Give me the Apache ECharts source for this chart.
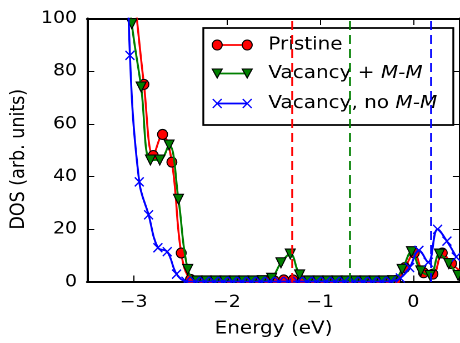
<!DOCTYPE html>
<html>
<head>
<meta charset="utf-8">
<script src="https://cdn.jsdelivr.net/npm/echarts@6/dist/echarts.min.js"></script>
<style>
  html, body { margin: 0; padding: 0; background: #fff; overflow: hidden; }
  #wrap { width: 460px; height: 343px; overflow: hidden; }
  /* figure is drawn narrower and widened horizontally, giving the wide lettering */
  #chart { width: 414px; height: 343px; transform: scaleX(1.111); transform-origin: 0 0; }
</style>
</head>
<body>
<div id="wrap"><div id="chart"></div></div>
<script>
// Density of states near the gap: pristine, vacancy with M-M bond, vacancy without M-M bond
var energyPristine = [-3.09, -2.99, -2.89, -2.79, -2.69, -2.59, -2.49, -2.39, -2.29, -2.19,
  -2.09, -1.99, -1.89, -1.79, -1.69, -1.59, -1.49, -1.39, -1.29, -1.19,
  -1.09, -0.99, -0.89, -0.79, -0.69, -0.59, -0.49, -0.39, -0.29, -0.19,
  -0.09, 0.01, 0.11, 0.21, 0.31, 0.41, 0.51];
var dosPristine = [140, 108, 75, 48, 56, 45.5, 11, 1, 0.3, 0.3,
  0.3, 0.3, 0.3, 0.3, 0.3, 0.3, 0.4, 0.8, 0.8, 0.4,
  0.3, 0.3, 0.3, 0.3, 0.3, 0.3, 0.3, 0.3, 0.3, 0.5,
  5.5, 11, 3.5, 3, 11, 7, 4];

var energyVacMM = [-3.12, -3.02, -2.92, -2.82, -2.72, -2.62, -2.52, -2.42, -2.32, -2.22,
  -2.12, -2.02, -1.92, -1.82, -1.72, -1.62, -1.52, -1.42, -1.32, -1.22,
  -1.12, -1.02, -0.92, -0.82, -0.72, -0.62, -0.52, -0.42, -0.32, -0.22,
  -0.12, -0.02, 0.08, 0.18, 0.28, 0.38, 0.48];
var dosVacMM = [135, 98, 74, 46.3, 46.3, 52, 31.4, 4.8, 0.4, 0.4,
  0.4, 0.4, 0.4, 0.4, 0.4, 0.5, 1.4, 7.3, 10.6, 2.7,
  0.4, 0.4, 0.4, 0.4, 0.4, 0.4, 0.4, 0.4, 0.4, 0.5,
  4.8, 11.5, 4.2, 2.5, 10.6, 7, 2.5];

var energyVacNoMM = [-3.14, -3.04, -2.94, -2.84, -2.74, -2.64, -2.54, -2.44, -2.34, -2.24,
  -2.14, -2.04, -1.94, -1.84, -1.74, -1.64, -1.54, -1.44, -1.34, -1.24,
  -1.14, -1.04, -0.94, -0.84, -0.74, -0.64, -0.54, -0.44, -0.34, -0.24,
  -0.14, -0.04, 0.06, 0.16, 0.26, 0.36, 0.46];
var dosVacNoMM = [220, 86, 38, 25.5, 13, 11.5, 3, 0.3, 0.2, 0.2,
  0.2, 0.2, 0.2, 0.2, 0.2, 0.2, 0.2, 0.2, 0.2, 0.2,
  0.2, 0.2, 0.2, 0.2, 0.2, 0.2, 0.2, 0.2, 0.2, 0.3,
  1.5, 5.5, 12, 7.5, 20, 15.5, 9.5];

// Fermi levels (dashed verticals)
var fermiLevels = [-1.30, -0.68, 0.19];

var seriesNames = ['Pristine', 'Vacancy + M-M', 'Vacancy, no M-M'];
var xTicks = [-3, -2, -1, 0];
var yTicks = [0, 20, 40, 60, 80, 100];

var FONT = 'DejaVu Sans';
var RED = '#ff0000', GREEN = '#008000', BLUE = '#0000ff';
var CROSS = 'path://M0,0L10,10M10,0L0,10';

function pairs(xs, ys) {
  return xs.map(function (x, i) { return [x, ys[i]]; });
}
function minusSign(v) {
  return String(v).replace('-', '\u2212');
}
function fermiLine(value, color) {
  return {
    silent: true,
    symbol: 'none',
    label: { show: false },
    lineStyle: { color: color, type: [9, 5], width: 1.7 },
    data: [{ xAxis: value }],
    z: 20
  };
}

var chart = echarts.init(document.getElementById('chart'), null, { renderer: 'canvas', devicePixelRatio: 2 });

var axisLine = { show: true, onZero: false, lineStyle: { color: '#000', width: 2 } };
var tickStyle = { show: true, inside: true, length: 6.5, lineStyle: { color: '#000', width: 1 } };

var legendRows = [
  { y: 45, color: RED, text: 'Pristine', kind: 'circle' },
  { y: 73.5, color: GREEN, text: 'Vacancy + {i|M-M}', kind: 'tri' },
  { y: 103.5, color: BLUE, text: 'Vacancy, no {i|M-M}', kind: 'cross' }
];

function legendMarker(kind, cx, cy, color) {
  if (kind === 'circle') {
    return { type: 'ellipse', shape: { cx: cx, cy: cy, rx: 4.5, ry: 5 }, style: { fill: color, stroke: '#000', lineWidth: 1 } };
  }
  if (kind === 'tri') {
    return { type: 'polygon', shape: { points: [[cx - 4.5, cy - 4.5], [cx + 4.5, cy - 4.5], [cx, cy + 4.5]] },
      style: { fill: color, stroke: '#000', lineWidth: 1 } };
  }
  return { type: 'group', children: [
    { type: 'line', shape: { x1: cx - 4, y1: cy - 4.5, x2: cx + 4, y2: cy + 4.5 }, style: { stroke: color, lineWidth: 1.3 } },
    { type: 'line', shape: { x1: cx - 4, y1: cy + 4.5, x2: cx + 4, y2: cy - 4.5 }, style: { stroke: color, lineWidth: 1.3 } }
  ] };
}

var legendChildren = [
  { type: 'rect', shape: { x: 183, y: 28, width: 225, height: 97 },
    style: { fill: '#fff', stroke: '#000', lineWidth: 1.7 } }
];
legendRows.forEach(function (r) {
  legendChildren.push({ type: 'line', shape: { x1: 195.5, y1: r.y, x2: 222.5, y2: r.y }, style: { stroke: r.color, lineWidth: 1.7 } });
  legendChildren.push(legendMarker(r.kind, 195.5, r.y, r.color));
  legendChildren.push(legendMarker(r.kind, 222.5, r.y, r.color));
  legendChildren.push({ type: 'text', x: 241.5, y: r.y,
    style: { text: r.text, fontFamily: FONT, fontSize: 18, fill: '#000', verticalAlign: 'middle', align: 'left',
      rich: { i: { fontStyle: 'italic', fontFamily: FONT, fontSize: 18 } } } });
});

var option = {
  animation: false,
  backgroundColor: '#fff',
  grid: { left: 77.5, right: -2, top: 18.5, bottom: 61 },
  xAxis: [
    {
      type: 'value', min: -3.5, max: 0.5, position: 'bottom',
      axisLine: axisLine,
      axisTick: Object.assign({}, tickStyle, { customValues: xTicks }),
      axisLabel: { customValues: xTicks, margin: 12, fontFamily: FONT, fontSize: 17, color: '#000',
        formatter: function (v) { return minusSign(v); } },
      splitLine: { show: false },
      name: 'Energy (eV)', nameLocation: 'middle', nameGap: 38,
      nameTextStyle: { fontFamily: FONT, fontSize: 18, color: '#000' }
    },
    {
      type: 'value', min: -3.5, max: 0.5, position: 'top',
      axisLine: axisLine,
      axisTick: Object.assign({}, tickStyle, { customValues: xTicks }),
      axisLabel: { show: false },
      splitLine: { show: false }
    }
  ],
  yAxis: [
    {
      type: 'value', min: 0, max: 100, interval: 20, position: 'left',
      axisLine: axisLine,
      axisTick: tickStyle,
      axisLabel: { margin: 9, fontFamily: FONT, fontSize: 17, color: '#000' },
      splitLine: { show: false },
      name: 'DOS (arb. units)', nameLocation: 'middle', nameGap: 48.5,
      nameTextStyle: { fontFamily: FONT, fontSize: 17.5, color: '#000', padding: [0, 0, 0, -18] }
    },
    {
      type: 'value', min: 0, max: 100, interval: 20, position: 'right',
      axisLine: axisLine,
      axisTick: tickStyle,
      axisLabel: { show: false },
      splitLine: { show: false }
    }
  ],
  series: [
    {
      name: seriesNames[0], type: 'line', data: pairs(energyPristine, dosPristine),
      smooth: 0.4, showAllSymbol: true, symbol: 'circle', symbolSize: [9, 10], clip: true, z: 2,
      lineStyle: { color: RED, width: 1.8 },
      itemStyle: { color: RED, borderColor: '#000', borderWidth: 1 },
      markLine: fermiLine(fermiLevels[0], RED)
    },
    {
      name: seriesNames[1], type: 'line', data: pairs(energyVacMM, dosVacMM),
      smooth: 0.4, showAllSymbol: true, symbol: 'triangle', symbolRotate: 180, symbolSize: [9, 10], clip: true, z: 3,
      lineStyle: { color: GREEN, width: 1.8 },
      itemStyle: { color: GREEN, borderColor: '#000', borderWidth: 1 },
      markLine: fermiLine(fermiLevels[1], GREEN)
    },
    {
      name: seriesNames[2], type: 'line', data: pairs(energyVacNoMM, dosVacNoMM),
      smooth: 0.4, showAllSymbol: true, symbol: CROSS, symbolSize: [8, 9], clip: true, z: 4,
      lineStyle: { color: BLUE, width: 1.8 },
      itemStyle: { color: 'none', borderColor: BLUE, borderWidth: 1.3 },
      markLine: fermiLine(fermiLevels[2], BLUE)
    }
  ],
  graphic: [
    // hides marker halves that fall below the bottom spine
    { type: 'rect', shape: { x: 77.5, y: 283, width: 340, height: 9 }, style: { fill: '#fff' }, z: 30, silent: true },
    { type: 'group', children: legendChildren, z: 40 }
  ]
};

chart.setOption(option);
</script>
</body>
</html>
